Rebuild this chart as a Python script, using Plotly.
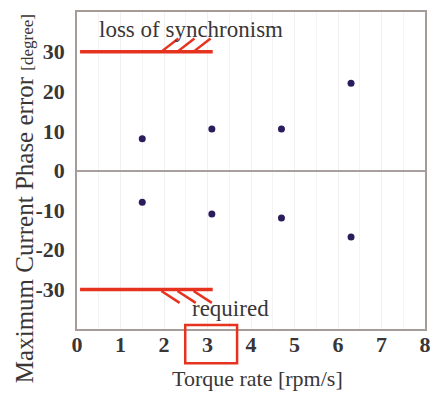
import plotly.graph_objects as go

# Measured maximum current phase error at each torque rate
torque_rate = [1.5, 3.1, 4.7, 6.3]          # rpm/s
phase_err_pos = [8.0, 10.5, 10.5, 22.0]     # degree
phase_err_neg = [-8.0, -11.0, -12.0, -16.8]  # degree

# Loss-of-synchronism limit (+/-) and its drawn extent along x
sync_limit = 30
limit_x = [0.07, 3.12]
hatch_x = [1.94, 2.31, 2.68]

x_ticks = [0, 1, 2, 3, 4, 5, 6, 7, 8]
y_ticks = [-30, -20, -10, 0, 10, 20, 30]

RED = "#e5331f"
TXT = "#3a3636"
SERIF = "Liberation Serif, Times New Roman, serif"

fig = go.Figure()

fig.add_trace(go.Scatter(
    x=torque_rate + torque_rate,
    y=phase_err_pos + phase_err_neg,
    mode="markers",
    marker=dict(size=7, color="#2b1d5c", line=dict(width=0)),
    showlegend=False,
))

shapes = []
# limit lines at +30 and -30
for sign in (1, -1):
    shapes.append(dict(type="line", xref="x", yref="y",
                       x0=limit_x[0], x1=limit_x[1],
                       y0=sign * sync_limit, y1=sign * sync_limit,
                       line=dict(color=RED, width=3.5)))
# hatching on the forbidden side of each limit
for hx in hatch_x:
    shapes.append(dict(type="line", xref="x", yref="y",
                       x0=hx, x1=hx + 0.39, y0=sync_limit, y1=sync_limit + 3.3,
                       line=dict(color=RED, width=2.5)))
    shapes.append(dict(type="line", xref="x", yref="y",
                       x0=hx, x1=hx + 0.42, y0=-sync_limit - 0.4, y1=-sync_limit - 3.4,
                       line=dict(color=RED, width=2.5)))
# box around the required torque-rate tick label
shapes.append(dict(type="rect", xref="paper", yref="paper",
                   x0=0.311, x1=0.460, y0=-0.108, y1=0.013,
                   line=dict(color=RED, width=2.5), fillcolor="rgba(0,0,0,0)"))

annotations = [
    dict(text="loss of synchronism", x=2.61, y=35.6, xref="x", yref="y",
         showarrow=False, font=dict(family=SERIF, size=23, color=TXT)),
    dict(text="required", x=3.52, y=-34.8, xref="x", yref="y",
         showarrow=False, font=dict(family=SERIF, size=23, color=TXT)),
    dict(text="Torque rate [rpm/s]", x=0.52, y=-0.155, xref="paper", yref="paper",
         showarrow=False, xanchor="center", yanchor="middle",
         font=dict(family=SERIF, size=22, color=TXT)),
    dict(text="Maximum Current Phase error <span style='font-size:17px'>[degree]</span>",
         x=-0.152, y=0.41, xref="paper", yref="paper", textangle=-90,
         showarrow=False, xanchor="center", yanchor="middle",
         font=dict(family=SERIF, size=25, color=TXT)),
]

fig.update_layout(
    width=435, height=394,
    margin=dict(l=77, r=4, t=12, b=65),
    paper_bgcolor="white", plot_bgcolor="white",
    shapes=shapes, annotations=annotations,
    showlegend=False,
)

fig.update_xaxes(
    range=[0, 8], tickvals=x_ticks, ticktext=[str(v) for v in x_ticks],
    showgrid=True, gridcolor="#f2efef", gridwidth=1,
    minor=dict(dtick=0.5, showgrid=True, gridcolor="#f5f3f3"),
    showline=True, linecolor="#a59c98", linewidth=1.5, mirror=True,
    ticks="", ticklabelstandoff=-5,
    tickfont=dict(family=SERIF, size=22, color=TXT, weight="bold"),
    zeroline=False,
)
fig.update_yaxes(
    range=[-40, 40], tickvals=y_ticks, ticktext=[str(v) for v in y_ticks],
    showgrid=False,
    showline=True, linecolor="#a59c98", linewidth=1.5, mirror=True,
    ticks="outside", ticklen=6, tickcolor="rgba(0,0,0,0)",
    tickfont=dict(family=SERIF, size=22, color=TXT, weight="bold"),
    zeroline=True, zerolinecolor="#a8a09e", zerolinewidth=1.5,
)

fig.write_html("out.html")
